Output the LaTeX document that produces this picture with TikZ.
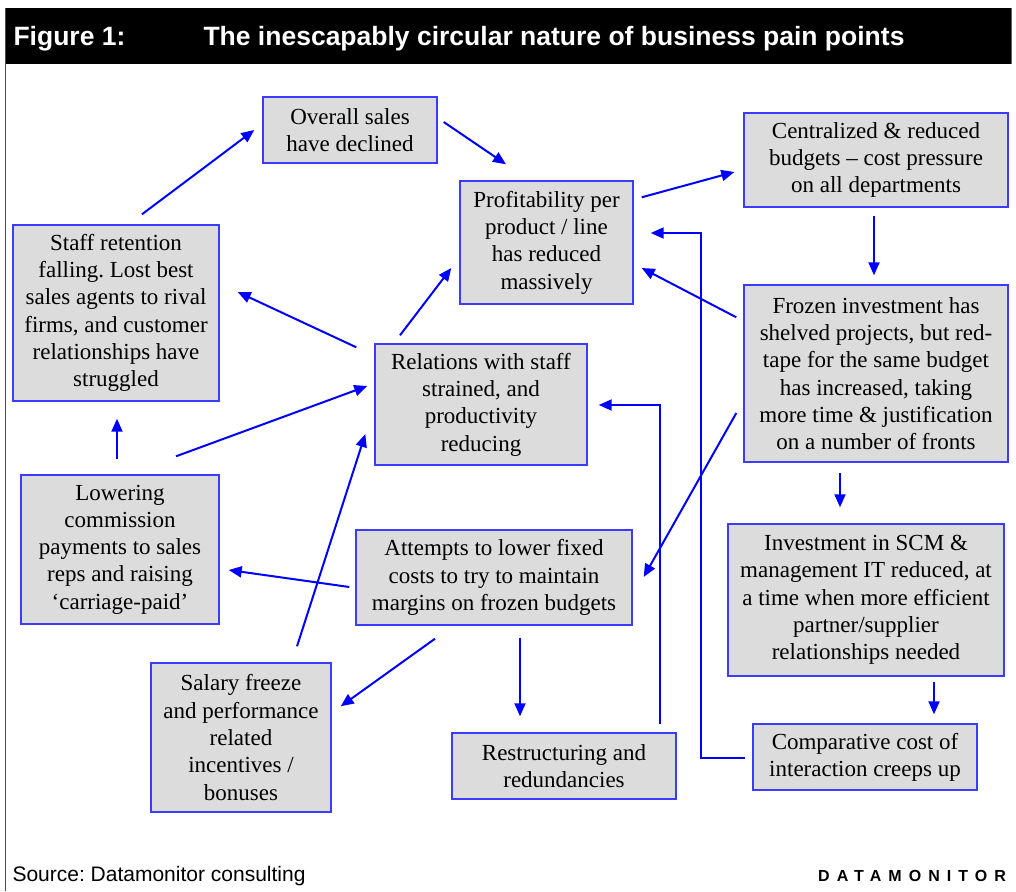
\documentclass[tikz,border=0pt]{standalone}
\usepackage{fontspec}
\setmainfont{Liberation Serif}
\newfontfamily\arialfont{Liberation Sans}
\usetikzlibrary{arrows.meta,calc}
\definecolor{boxfill}{HTML}{DCDCDC}
\definecolor{boxline}{HTML}{3C3CFF}
\definecolor{arrowblue}{HTML}{0000FF}
\frenchspacing
\tikzset{
  painbox/.style={draw=boxline, line width=1.4pt, fill=boxfill, align=center,
    inner sep=0pt, font=\fontsize{23}{27.3}\selectfont},
  arr/.style={draw=arrowblue, line width=2pt,
    -{Triangle[length=13pt,width=11pt]}},
}
\begin{document}
\begin{tikzpicture}[x=1pt,y=-1pt]
\useasboundingbox (0,0) rectangle (1016,891);
\fill[white] (0,0) rectangle (1016,891);
% title bar and frame
\fill[black] (5,8) rectangle (1012,64);
\draw[black!70, line width=1.2pt] (5.5,8) -- (5.5,891);
\draw[black!60, line width=1pt] (1011.5,8) -- (1011.5,64);
\node[anchor=west, text=white, font=\arialfont\bfseries\fontsize{26.5}{30}\selectfont] (fig) at (10,39) {Figure 1:};
\node[anchor=west, text=white, font=\arialfont\bfseries\fontsize{26.5}{30}\selectfont] (title) at (200,39) {The inescapably circular nature of business pain points};
\node[anchor=west, font=\arialfont\fontsize{21}{25}\selectfont] (src) at (9,876) {Source: Datamonitor consulting};
\node[anchor=west, inner sep=0pt, font=\arialfont\bfseries\fontsize{16}{20}\selectfont] (dm) at (818,876) {\addfontfeature{LetterSpace=44}DATAMONITOR};

% boxes
\node[painbox, minimum width=174, minimum height=66] (over) at (350,130) {Overall sales\\have declined};
\node[painbox, minimum width=264, minimum height=94] (cent) at (876,160) {Centralized \& reduced\\budgets -- cost pressure\\on all departments};
\node[painbox, minimum width=173, minimum height=123] (prof) at (546.5,242.5) {Profitability per\\product / line\\has reduced\\massively};
\node[painbox, minimum width=206, minimum height=176] (staff) at (116,313) {Staff retention\\falling. Lost best\\sales agents to rival\\firms, and customer\\relationships have\\struggled};
\node[painbox, minimum width=264, minimum height=177] (froz) at (876,373.5) {Frozen investment has\\shelved projects, but red-\\tape for the same budget\\has increased, taking\\more time \& justification\\on a number of fronts};
\node[painbox, minimum width=212, minimum height=121] (rel) at (481,404.5) {Relations with staff\\strained, and\\productivity\\reducing};
\node[painbox, minimum width=198, minimum height=149] (low) at (120,549.5) {Lowering\\commission\\payments to sales\\reps and raising\\`carriage-paid'};
\node[painbox, minimum width=276, minimum height=95] (att) at (494,577.5) {Attempts to lower fixed\\costs to try to maintain\\margins on frozen budgets};
\node[painbox, minimum width=276, minimum height=152] (inv) at (866,600) {Investment in SCM \&\\management IT reduced, at\\a time when more efficient\\partner/supplier\\relationships needed};
\node[painbox, minimum width=180, minimum height=149] (sal) at (241,737.5) {Salary freeze\\and performance\\related\\incentives /\\bonuses};
\node[painbox, minimum width=224, minimum height=66] (res) at (564,766) {Restructuring and\\redundancies};
\node[painbox, minimum width=224, minimum height=66] (comp) at (865,757) {Comparative cost of\\interaction creeps up};

% connectors
\draw[arr] ($(staff.north)+(26,-10)$) -- ($(over.west)+(-8,0)$);
\draw[arr] ($(over.east)+(6,-8)$) -- ($(prof.north)+(-40.5,-16)$);
\draw[arr] ($(prof.north east)+(8,17)$) -- ($(cent.west)+(-9,12)$);
\draw[arr] ($(cent.south)+(-2,8)$) -- ($(froz.north)+(-2,-9)$);
\draw[arr] ($(froz.north west)+(-7,33)$) -- ($(prof.east)+(8,25.5)$);
\draw[arr] ($(froz.west)+(-7,39.5)$) -- ($(att.east)+(11,-0.5)$);
\draw[arr] ($(froz.south)+(-36,10)$) -- ($(inv.north)+(-26,-16)$);
\draw[arr] ($(inv.south)+(68,5)$) -- ($(comp.north)+(69,-9)$);
\draw[arr] ($(comp.west)+(-7,1)$) -- ++(-44,0) |- ($(prof.east)+(17,-9.5)$);
\draw[arr] ($(res.north)+(96,-8)$) |- ($(rel.east)+(11,0.5)$);
\draw[arr] ($(att.south)+(26,12)$) -- ($(res.north)+(-44,-16)$);
\draw[arr] ($(att.south)+(-59,13)$) -- ($(sal.north east)+(9,44)$);
\draw[arr] ($(att.west)+(-6,9.5)$) -- ($(low.east)+(9,20.5)$);
\draw[arr] ($(sal.north)+(56,-16)$) -- ($(rel.west)+(-9,29.5)$);
\draw[arr] ($(low.north)+(56,-18)$) -- ($(rel.west)+(-7,-18.5)$);
\draw[arr] ($(low.north)+(-3,-15)$) -- ($(staff.south)+(1,17)$);
\draw[arr] ($(rel.north west)+(-18,4)$) -- ($(staff.east)+(18,-21)$);
\draw[arr] ($(rel.north)+(-81,-8)$) -- ($(prof.west)+(-8,25.5)$);
\end{tikzpicture}
\end{document}
